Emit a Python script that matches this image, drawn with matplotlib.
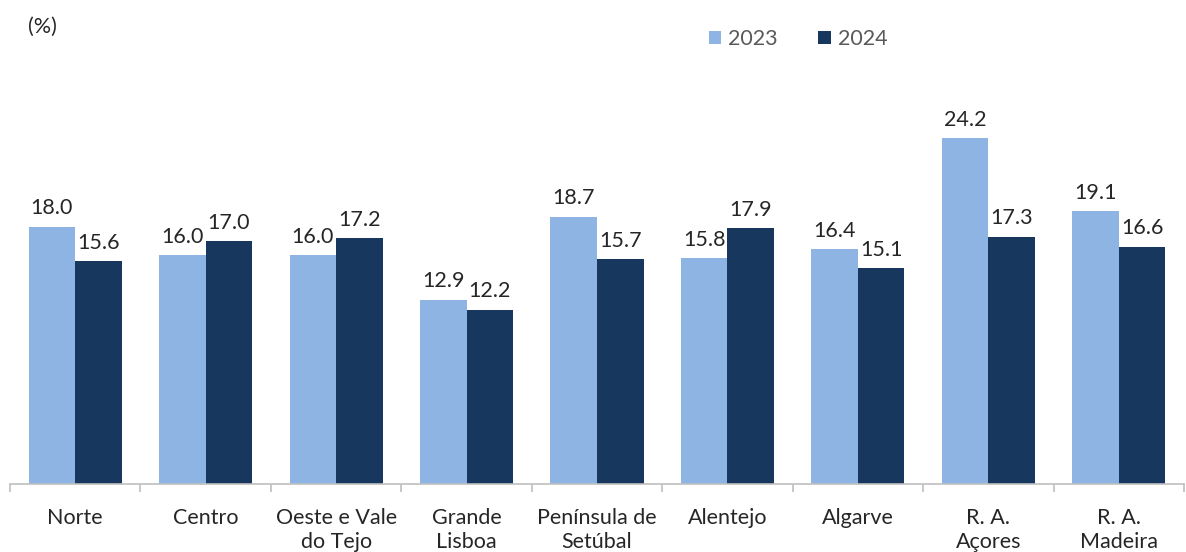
import numpy as np
import matplotlib.pyplot as plt

plt.rcParams['font.family'] = ['Lato', 'DejaVu Sans']

categories = ['Norte', 'Centro', 'Oeste e Vale\ndo Tejo', 'Grande\nLisboa',
              'Península de\nSetúbal', 'Alentejo', 'Algarve', 'R. A.\nAçores',
              'R. A.\nMadeira']
v2023 = [18.0, 16.0, 16.0, 12.9, 18.7, 15.8, 16.4, 24.2, 19.1]
v2024 = [15.6, 17.0, 17.2, 12.2, 15.7, 17.9, 15.1, 17.3, 16.6]

c2023 = '#8EB4E3'
c2024 = '#17375E'

W, H = 1186, 552
fig = plt.figure(figsize=(W / 100, H / 100), dpi=100)
# axes placed in pixel terms: left 10, right 1184, baseline 484, top 60
ax = fig.add_axes([10 / W, (H - 484) / H, 1174 / W, (484 - 60) / H])

n = len(categories)
x = np.arange(n)
bw = 0.357
b1 = ax.bar(x - bw / 2, v2023, bw, color=c2023, label='2023')
b2 = ax.bar(x + bw / 2, v2024, bw, color=c2024, label='2024')

for bars, vals in ((b1, v2023), (b2, v2024)):
    for r, v in zip(bars, vals):
        ax.annotate(f'{v:.1f}', (r.get_x() + r.get_width() / 2, v),
                    xytext=(0, 6), textcoords='offset points',
                    ha='center', va='bottom', fontsize=15.5, color='#262626')

ax.set_xlim(-0.5, n - 0.5)
ax.set_ylim(0, (484 - 60) / 14.3)
ax.set_yticks([])
for s in ('top', 'right', 'left'):
    ax.spines[s].set_visible(False)
ax.spines['bottom'].set_color('#BFBFBF')
ax.spines['bottom'].set_linewidth(1.2)

ax.set_xticks(x)
ax.set_xticklabels(categories, fontsize=15.5, color='#262626', linespacing=1.25, va='top')
ax.tick_params(axis='x', length=0, pad=17)
ax.set_xticks(np.arange(n + 1) - 0.5, minor=True)
ax.tick_params(axis='x', which='minor', length=6, width=1.2, color='#BFBFBF')

fig.text(28 / W, 1 - 27 / H, '(%)', fontsize=15.5, color='#262626', va='center')

leg = fig.legend(handles=[b1, b2], loc='center', bbox_to_anchor=(798 / W, 1 - 39 / H),
                 ncol=2, frameon=False, fontsize=15.5, handlelength=0.6, handleheight=0.6,
                 columnspacing=1.9, handletextpad=0.3)
for t in leg.get_texts():
    t.set_color('#595959')

fig.savefig('out.png', dpi=100)
